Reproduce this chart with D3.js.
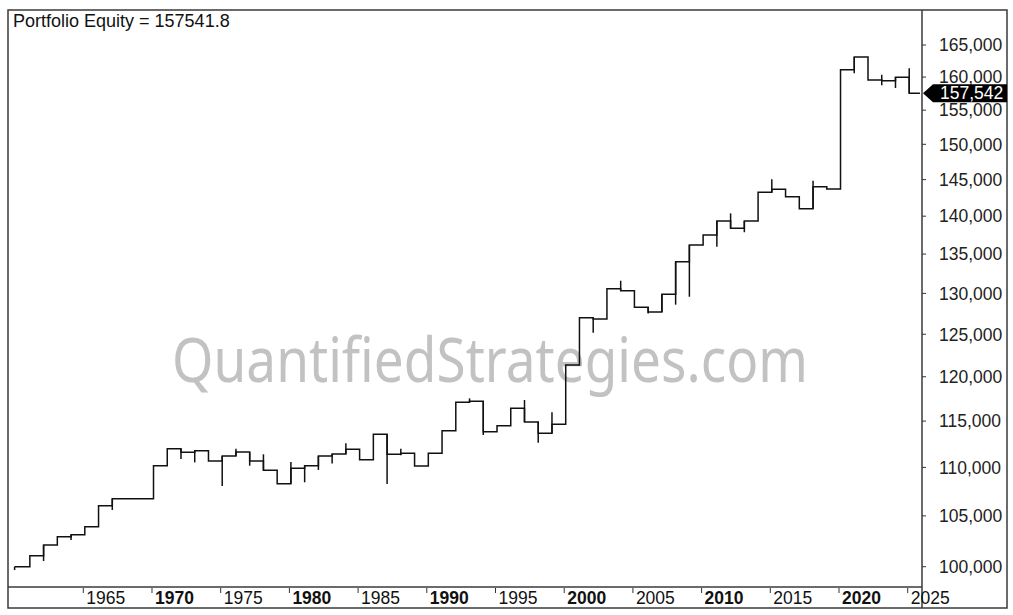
<!DOCTYPE html>
<html><head><meta charset="utf-8">
<script src="https://cdn.jsdelivr.net/npm/d3@7"></script>
<style>body{margin:0;background:#fff}svg{display:block}</style>
</head><body><svg id="c" width="1013" height="615"></svg>
<script>
const titleText = "Portfolio Equity = 157541.8";
const watermark = "QuantifiedStrategies.com";
const startYear = 1960;
const startValue = 100000;
const startLow = 99680;
const tradeYears = [1961,1962,1963,1964,1965,1966,1967,
  1970,1971,1972,1973,1974,1975,1976,1977,1978,1979,
  1980,1981,1982,1983,1984,1985,1986,1987,1988,1989,
  1990,1991,1992,1993,1994,1995,1996,1997,1998,1999,
  2000,2001,2002,2003,2004,2005,2006,2007,2008,2009,
  2010,2011,2012,2013,2014,2015,2016,2017,2018,2019,
  2020,2021,2022,2023,2024,2025];
const equity = [101060,102100,102920,103120,103920,106030,106740,
  110180,111990,111600,111780,110680,111210,111640,110680,109690,108290,
  109910,110180,111210,111420,111930,110820,113550,111390,111500,110150,
  111500,113940,117090,117200,113830,114490,116420,114900,113660,114650,
  121370,127000,126850,130580,130330,128280,127700,129880,134010,136180,
  137490,139350,138380,139350,143240,143650,142650,141010,144010,143690,
  161130,163120,159550,159450,159980,157541.8];
const tradeLow = [null,100550,null,102600,null,null,105600,
  null,null,110890,110530,null,108060,null,110180,null,null,
  null,108440,109730,110420,null,null,null,108260,111300,null,
  null,null,null,null,113480,null,null,null,112640,null,
  null,null,125180,null,null,null,127500,128680,128600,129580,
  null,135960,null,137860,null,null,null,null,null,null,
  null,160590,null,158750,158330,null];
const tradeHigh = [null,null,null,null,null,null,null,
  null,null,null,null,null,null,111990,null,111390,null,
  110560,null,null,null,112570,null,null,null,112000,null,
  null,null,null,117540,null,null,null,117350,null,115970,
  null,null,null,null,131590,null,null,null,null,null,
  null,null,140380,null,null,145040,null,null,144830,null,
  null,null,null,160350,null,161350];
const yTicks = [100000,105000,110000,115000,120000,125000,130000,135000,140000,145000,150000,155000,160000,165000];
const xTicks = [1965,1970,1975,1980,1985,1990,1995,2000,2005,2010,2015,2020,2025];
const boldTicks = [1970,1980,1990,2000,2010,2020];

const tradeOffset = 0.11; // exit time within the year
const L = 8, R = 922, T = 10, B = 587, OR = 1007, OB = 608;
const svg = d3.select("#c");
const x = d3.scaleLinear().domain([1959.52, 2026.04]).range([L, R]);
const y = d3.scaleLog().domain([98070, 170640]).range([B, T]);
const fmt = d3.format(",.0f");
const frameCol = "#3a3a3a";

svg.append("rect").attr("x",0).attr("y",0).attr("width",1013).attr("height",615).attr("fill","#fff");

// watermark
svg.append("text").attr("x", 172).attr("y", 382)
  .attr("font-family","'Noto Sans', 'Open Sans', sans-serif").attr("font-size", 62)
  .attr("fill","#c2c2c2").attr("textLength", 636).attr("lengthAdjust","spacingAndGlyphs")
  .text(watermark);

// data
const pts = [[startYear, startValue]];
tradeYears.forEach((yr,i)=>pts.push([yr + tradeOffset, equity[i]]));
pts.push([x.domain()[1] - 0.15, equity[equity.length-1]]);
const line = d3.line().x(d=>x(d[0])).y(d=>y(d[1])).curve(d3.curveStepAfter);
const g = svg.append("g");
g.append("path").attr("d", line(pts)).attr("fill","none").attr("stroke","#111").attr("stroke-width",1.5);

// intra-trade range spikes
const spikes = [];
spikes.push({t:startYear, lo:startLow, hi:startValue});
tradeYears.forEach((yr,i)=>{
  const prev = i===0 ? startValue : equity[i-1];
  if (tradeLow[i]!==null || tradeHigh[i]!==null) {
    const lo = Math.min(prev, equity[i], tradeLow[i] ?? Infinity);
    const hi = Math.max(prev, equity[i], tradeHigh[i] ?? -Infinity);
    spikes.push({t:yr+tradeOffset, lo, hi});
  }
});
g.selectAll("line.sp").data(spikes).join("line").attr("class","sp")
  .attr("x1",d=>x(d.t)).attr("x2",d=>x(d.t))
  .attr("y1",d=>y(d.lo)).attr("y2",d=>y(d.hi))
  .attr("stroke","#111").attr("stroke-width",1.5);

// frame
const fr = svg.append("g").attr("stroke",frameCol).attr("stroke-width",1.5).attr("fill","none");
fr.append("rect").attr("x",L).attr("y",T).attr("width",OR-L).attr("height",OB-T);
fr.append("line").attr("x1",R).attr("x2",R).attr("y1",T).attr("y2",OB);
fr.append("line").attr("x1",L).attr("x2",R).attr("y1",B).attr("y2",B);

// y axis
const ya = svg.append("g");
yTicks.forEach(v=>{
  ya.append("line").attr("x1",R).attr("x2",R+4).attr("y1",y(v)).attr("y2",y(v)).attr("stroke","#333").attr("stroke-width",1);
  ya.append("text").attr("x",939).attr("y",y(v)).attr("dy","0.36em")
    .attr("font-family","'Liberation Sans', Arial, sans-serif").attr("font-size",17.5).attr("fill","#222")
    .text(fmt(v));
});

// x axis
const xa = svg.append("g");
xTicks.forEach(v=>{
  xa.append("line").attr("x1",x(v)).attr("x2",x(v)).attr("y1",B+1).attr("y2",B+6).attr("stroke","#333").attr("stroke-width",1);
  xa.append("text").attr("x",x(v)+3).attr("y",604)
    .attr("font-family","'Liberation Sans', Arial, sans-serif").attr("font-size",17.5).attr("fill","#111")
    .attr("font-weight", boldTicks.includes(v) ? "bold" : "normal")
    .text(v);
});

// last value label
const lv = equity[equity.length-1];
const ly = y(lv);
svg.append("path")
  .attr("d", `M${R+1},${ly} L${R+11},${ly-9} L${OR},${ly-9} L${OR},${ly+9} L${R+11},${ly+9} Z`)
  .attr("fill","#000");
svg.append("text").attr("x",940).attr("y",ly).attr("dy","0.36em")
  .attr("font-family","'Liberation Sans', Arial, sans-serif").attr("font-size",17.5).attr("fill","#fff")
  .text(fmt(lv));

// title
svg.append("text").attr("x",13).attr("y",27)
  .attr("font-family","'Liberation Sans', Arial, sans-serif").attr("font-size",18).attr("fill","#111")
  .text(titleText);
</script></body></html>
